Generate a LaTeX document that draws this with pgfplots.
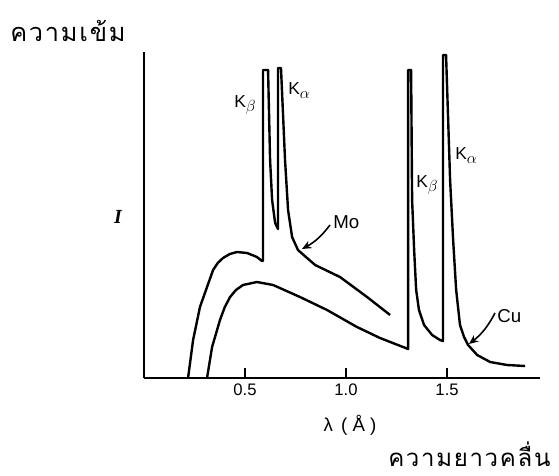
\documentclass[border=0pt]{standalone}
\usepackage{fontspec}
\setmainfont{Liberation Sans}
\newfontfamily\thaifont[Script=Thai,LetterSpace=7]{Loma}
\newfontfamily\serifit{Liberation Serif}
\usepackage{pgfplots}
\pgfplotsset{compat=1.18}
\usetikzlibrary{arrows.meta}
\newcommand{\Ksub}[1]{K\raisebox{-3pt}{\fontsize{12}{12}\selectfont$#1$}}
\pgfplotstableread{
lam I
0.218 0
0.243 38
0.277 71
0.312 91
0.342 108
0.365 115
0.391 120
0.425 124
0.460 126
0.510 125
0.559 121
0.584 117
0.589 117
0.589 308
0.614 308
0.624 218
0.634 178
0.649 155
0.663 149
0.663 310
0.678 310
0.698 218
0.713 168
0.733 141
0.762 128
0.807 120
0.847 113
0.970 101
1.104 81
1.218 63
}\mo
\pgfplotstableread{
lam I
0.312 0
0.337 31
0.376 58
0.400 71
0.426 81
0.455 88
0.490 93
0.559 96
0.639 93
0.772 81
0.906 68
1.054 51
1.168 40
1.282 31
1.307 29
1.307 308
1.322 308
1.327 178
1.337 128
1.347 88
1.361 68
1.386 53
1.426 43
1.465 38
1.480 37
1.480 323
1.495 323
1.515 198
1.530 138
1.545 88
1.564 53
1.584 41
1.604 33
1.649 23
1.713 16
1.797 13
1.886 12
}\cu
\begin{document}
\begin{tikzpicture}[x=0.75pt,y=0.75pt]
\useasboundingbox (0,0) rectangle (559,475);
\begin{axis}[
  at={(108pt,72.75pt)}, anchor=south west,
  scale only axis, width=297pt, height=244.5pt,
  xmin=0, xmax=1.96, ymin=0, ymax=326,
  axis x line=bottom, axis y line=left,
  axis line style={-, line width=1.8pt, black},
  xtick={0.5,1.0,1.5}, xticklabels={0.5,1.0,1.5}, ytick=\empty,
  tick align=inside, major tick length=7.5pt,
  tick style={line width=1.4pt, black},
  xticklabel style={font=\fontsize{12.5}{12.5}\selectfont, yshift=-1pt},
  /pgf/number format/assume math mode=true,
  clip=false,
]
\addplot[black, line width=1.8pt, line join=round] table[x=lam,y=I] {\mo};
\addplot[black, line width=1.8pt, line join=round] table[x=lam,y=I] {\cu};
\end{axis}
\node[anchor=base west, inner sep=0pt] at (10,433) {\thaifont\fontsize{19}{19}\selectfont ความเข้ม};
\node[anchor=base west, inner sep=0pt] at (388,9) {\thaifont\fontsize{18}{18}\selectfont ความยาวคลื่น};
\node[anchor=base, inner sep=0pt] at (350,44) {\fontsize{14}{14}\selectfont λ\, ( Å )};
\node[inner sep=0pt] at (118,258) {\serifit\fontsize{15}{15}\selectfont\bfseries\itshape I};
\node[anchor=base west, inner sep=0pt] at (234,367) {\fontsize{13}{13}\selectfont\Ksub{\beta}};
\node[anchor=base west, inner sep=0pt] at (288,380) {\fontsize{13}{13}\selectfont\Ksub{\alpha}};
\node[anchor=base west, inner sep=0pt] at (416,287) {\fontsize{13}{13}\selectfont\Ksub{\beta}};
\node[anchor=base west, inner sep=0pt] at (455,315) {\fontsize{13}{13}\selectfont\Ksub{\alpha}};
\node[anchor=base west, inner sep=0pt] at (333,247) {\fontsize{14}{14}\selectfont Mo};
\node[anchor=base west, inner sep=0pt] at (497,153) {\fontsize{14}{14}\selectfont Cu};
\draw[-{Stealth[length=7pt,width=6pt]}, line width=1.2pt] (330,250) to[bend left=12] (302,226);
\draw[-{Stealth[length=7pt,width=6pt]}, line width=1.2pt] (495,162) to[bend left=12] (469,131);
\end{tikzpicture}
\end{document}
